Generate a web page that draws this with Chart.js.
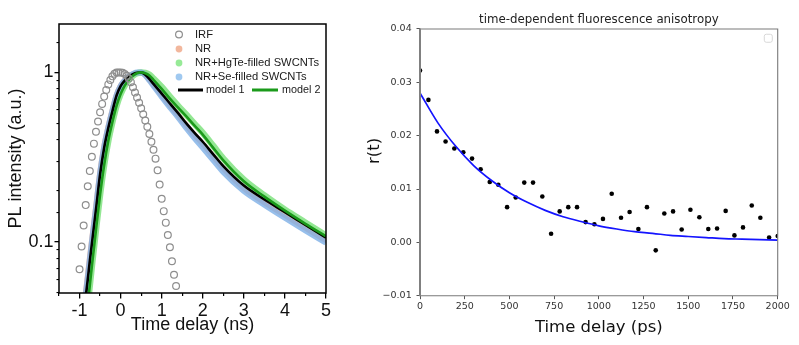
<!DOCTYPE html>
<html><head><meta charset="utf-8">
<script src="https://cdn.jsdelivr.net/npm/chart.js@4.4.1/dist/chart.umd.min.js"></script>
<style>
html,body{margin:0;padding:0;background:#fff;}
#wrap{position:relative;width:799px;height:345px;overflow:hidden;background:#fff;}
#c1{position:absolute;left:0;top:0;}
#c2{position:absolute;left:340px;top:0;}
</style></head><body>
<div id="wrap">
<canvas id="c1" width="340" height="345"></canvas>
<canvas id="c2" width="459" height="345"></canvas>
</div>
<script>
// ---------- Left panel data (time in ns, normalized PL) ----------
const irfTime = [-1.0,-0.95,-0.9,-0.85,-0.8,-0.75,-0.7,-0.65,-0.6,-0.55,-0.5,-0.45,-0.4,-0.35,-0.3,-0.25,-0.2,-0.15,-0.1,-0.05,
  0,0.05,0.1,0.15,0.2,0.25,0.3,0.35,0.4,0.45,0.5,0.55,0.6,0.65,0.7,0.75,0.8,0.85,0.9,0.95,1.0,1.05,1.1,1.15,1.2,1.25,1.3,1.35,1.4];
const irfValues = [0.069,0.094,0.125,0.165,0.213,0.262,0.318,0.380,0.447,0.513,0.582,0.652,0.720,0.788,0.850,0.902,0.948,0.982,0.998,1.0,
  1.0,0.994,0.978,0.955,0.922,0.876,0.818,0.760,0.712,0.662,0.615,0.566,0.520,0.478,0.433,0.390,0.350,0.310,0.265,0.218,0.180,0.152,0.130,0.110,0.093,0.077,0.064,0.055,0.047];

const curveTime = [-0.87,-0.8,-0.75,-0.7,-0.6,-0.5,-0.4,-0.3,-0.2,-0.1,0,0.1,0.2,0.3,0.4,0.5,0.6,0.7,0.8,1.0,1.2,1.4,1.6,1.8,2.0,2.25,2.5,3.0,3.5,4.0,4.5,5.0];
const nrValues     = [0.046,0.064,0.082,0.103,0.163,0.26,0.37,0.48,0.60,0.735,0.835,0.90,0.95,0.98,0.997,1.0,0.965,0.905,0.845,0.735,0.64,0.56,0.487,0.427,0.378,0.32,0.272,0.208,0.171,0.144,0.121,0.102];
const seValues     = [0.044,0.061,0.078,0.099,0.157,0.252,0.362,0.472,0.592,0.73,0.83,0.895,0.947,0.98,1.0,1.0,0.965,0.9,0.835,0.72,0.625,0.545,0.47,0.41,0.36,0.305,0.259,0.2,0.166,0.139,0.117,0.099];
const model1Values = [0.043,0.06,0.077,0.097,0.155,0.25,0.36,0.47,0.59,0.73,0.83,0.895,0.945,0.978,0.996,1.0,0.97,0.915,0.855,0.75,0.656,0.575,0.50,0.44,0.39,0.33,0.28,0.215,0.178,0.15,0.126,0.106];

const curveTime2 = [-0.8,-0.77,-0.7,-0.6,-0.5,-0.4,-0.3,-0.2,-0.1,0,0.1,0.2,0.3,0.4,0.5,0.6,0.7,0.8,1.0,1.2,1.4,1.6,1.8,2.0,2.25,2.5,3.0,3.5,4.0,4.5,5.0];
const hgteValues   = [0.043,0.05,0.072,0.118,0.19,0.285,0.395,0.51,0.635,0.745,0.835,0.905,0.955,0.988,1.0,0.995,0.97,0.92,0.82,0.72,0.635,0.563,0.497,0.44,0.37,0.31,0.233,0.188,0.155,0.13,0.109];
const model2Values = [0.043,0.05,0.072,0.118,0.19,0.285,0.395,0.51,0.635,0.745,0.835,0.905,0.955,0.988,1.0,0.99,0.96,0.905,0.80,0.70,0.62,0.55,0.485,0.43,0.36,0.303,0.228,0.185,0.153,0.128,0.108];

const xTicksLeft = [-1,0,1,2,3,4,5];
const xMinorTicksLeft = [-1.5,-0.5,0.5,1.5,2.5,3.5,4.5];
const yTicksLeft = [0.1,1];

// ---------- Right panel data (time in ps, anisotropy) ----------
const delayPs = [0,47,95,143,192,242,291,339,390,438,487,535,583,632,684,733,781,829,878,926,975,1023,1072,1124,1172,1221,1269,1318,1366,1415,1463,1512,1562,1612,1661,1709,1758,1806,1855,1903,1952,2000];
const anisotropy = [0.0322,0.0267,0.0208,0.0189,0.0176,0.0169,0.0157,0.0137,0.0113,0.0108,0.0066,0.0084,0.0112,0.0112,0.0086,0.0016,0.0058,0.0066,0.0066,0.0038,0.0034,0.0044,0.0091,0.0046,0.0057,0.0025,0.0066,-0.0015,0.0054,0.0058,0.0024,0.0061,0.0047,0.0025,0.0026,0.0059,0.0013,0.0028,0.0069,0.0046,0.0009,0.0012];
const fitTimePs = [0,100,200,300,400,500,600,700,800,900,1000,1100,1200,1300,1400,1500,1600,1700,1800,1900,2000];
const fitValues = [0.0280,0.0224,0.0180,0.0144,0.0116,0.0093,0.0075,0.0060,0.0048,0.0039,0.0031,0.0025,0.0020,0.0017,0.0013,0.0011,0.0009,0.0007,0.0006,0.0005,0.0004];
const xTicksRight = [0,250,500,750,1000,1250,1500,1750,2000];
const yTicksRight = [-0.01,0,0.01,0.02,0.03,0.04];

const pts = (xs, ys) => xs.map((x, i) => ({x, y: ys[i]}));
const SANS = "'Liberation Sans', Arial, sans-serif";
const DV = "'DejaVu Sans', sans-serif";

// ---------- plugins ----------
const frameLeft = {
  id: 'frameLeft',
  afterDraw(chart) {
    const {ctx, chartArea: a} = chart;
    ctx.save();
    ctx.strokeStyle = '#000'; ctx.lineWidth = 1.5;
    ctx.strokeRect(a.left, a.top, a.right - a.left, a.bottom - a.top);
    ctx.restore();
  }
};
const legendLeft = {
  id: 'legendLeft',
  afterDraw(chart) {
    const {ctx} = chart;
    const ds = chart.data.datasets;
    const byLabel = l => ds.find(d => d.label === l);
    ctx.save();
    ctx.textBaseline = 'middle'; ctx.textAlign = 'left';
    ctx.fillStyle = '#1a1a1a';
    ctx.font = "11.2px " + SANS;
    const rows = [
      {l: 'IRF', y: 34.5, open: true},
      {l: 'NR', y: 49, fill: 'rgba(240,170,140,0.85)'},
      {l: 'NR+HgTe-filled SWCNTs', y: 63, fill: 'rgba(140,232,140,0.9)'},
      {l: 'NR+Se-filled SWCNTs', y: 77, fill: 'rgba(150,195,238,0.9)'}
    ];
    rows.forEach(r => {
      const d = byLabel(r.l);
      ctx.beginPath();
      ctx.arc(179, r.y, 3.4, 0, Math.PI * 2);
      if (r.open) { ctx.lineWidth = 1.2; ctx.strokeStyle = d.pointBorderColor; ctx.stroke(); }
      else { ctx.fillStyle = r.fill; ctx.fill(); }
      ctx.fillStyle = '#1a1a1a';
      ctx.fillText(d.label, 195, r.y);
    });
    const m1 = byLabel('model 1'), m2 = byLabel('model 2');
    ctx.lineWidth = 3;
    ctx.strokeStyle = m1.borderColor;
    ctx.beginPath(); ctx.moveTo(178, 90); ctx.lineTo(203, 90); ctx.stroke();
    ctx.strokeStyle = m2.borderColor;
    ctx.beginPath(); ctx.moveTo(252, 90); ctx.lineTo(278, 90); ctx.stroke();
    ctx.font = "10.8px " + SANS;
    ctx.fillText(m1.label, 206, 90);
    ctx.fillText(m2.label, 282, 90);
    ctx.restore();
  }
};
const frameRight = {
  id: 'frameRight',
  afterDraw(chart) {
    const {ctx, chartArea: a} = chart;
    ctx.save();
    ctx.strokeStyle = '#7a7a7a'; ctx.lineWidth = 1.1;
    ctx.beginPath();
    ctx.moveTo(a.left, a.top); ctx.lineTo(a.right, a.top); ctx.lineTo(a.right, a.bottom); ctx.lineTo(a.left, a.bottom);
    ctx.stroke();
    ctx.lineWidth = 2; ctx.strokeStyle = '#808080';
    ctx.beginPath(); ctx.moveTo(a.left, a.top - 0.5); ctx.lineTo(a.left, a.bottom + 0.5); ctx.stroke();
    // empty legend box (matplotlib legend with no entries)
    ctx.strokeStyle = '#d8d8d8'; ctx.lineWidth = 1;
    ctx.beginPath();
    if (ctx.roundRect) ctx.roundRect(a.right - 13.4, a.top + 5.3, 8, 8, 2); else ctx.rect(a.right - 13.4, a.top + 5.3, 8, 8);
    ctx.stroke();
    // y axis label
    ctx.translate(35, 151);
    ctx.rotate(-Math.PI / 2);
    ctx.fillStyle = '#111';
    ctx.font = "16.5px " + DV;
    ctx.textAlign = 'center'; ctx.textBaseline = 'middle';
    ctx.fillText('r(t)', 0, 0);
    ctx.restore();
  }
};

// ---------- Left chart ----------
new Chart(document.getElementById('c1'), {
  type: 'scatter',
  data: {
    datasets: [
      {label: 'IRF', data: pts(irfTime, irfValues), showLine: false, pointRadius: 3.4, pointBorderWidth: 1.2,
       pointBorderColor: '#8e8e8e', pointBackgroundColor: 'rgba(255,255,255,0)', xAxisID: 'x', yAxisID: 'y', order: 0},
      {label: 'model 2', data: pts(curveTime2, model2Values), showLine: true, pointRadius: 0, borderColor: '#1b9a1b', borderWidth: 2.6,
       cubicInterpolationMode: 'monotone', xAxisID: 'x', yAxisID: 'y', order: 1},
      {label: 'model 1', data: pts(curveTime, model1Values), showLine: true, pointRadius: 0, borderColor: '#000000', borderWidth: 2.6,
       cubicInterpolationMode: 'monotone', xAxisID: 'x', yAxisID: 'y', order: 2},
      {label: 'NR+Se-filled SWCNTs', data: pts(curveTime, seValues), showLine: true, pointRadius: 0, borderColor: 'rgba(125,175,230,0.8)', borderWidth: 6,
       cubicInterpolationMode: 'monotone', xAxisID: 'x', yAxisID: 'y', order: 3},
      {label: 'NR+HgTe-filled SWCNTs', data: pts(curveTime2, hgteValues), showLine: true, pointRadius: 0, borderColor: 'rgba(120,225,120,0.8)', borderWidth: 6.5,
       cubicInterpolationMode: 'monotone', xAxisID: 'x', yAxisID: 'y', order: 4},
      {label: 'NR', data: pts(curveTime, nrValues), showLine: true, pointRadius: 0, borderColor: 'rgba(238,160,130,0.75)', borderWidth: 5.5,
       cubicInterpolationMode: 'monotone', xAxisID: 'x', yAxisID: 'y', order: 5}
    ]
  },
  options: {
    responsive: false, animation: false, devicePixelRatio: 1, events: [],
    layout: {padding: {left: 0, top: 24, right: 14, bottom: 0}},
    plugins: {legend: {display: false}, tooltip: {enabled: false}, title: {display: false}},
    scales: {
      x: {
        type: 'linear', position: 'bottom', min: -1.5, max: 5, weight: 1,
        afterBuildTicks: s => { s.ticks = xTicksLeft.map(v => ({value: v})); },
        afterFit: s => { s.height = 52; },
        grid: {display: true, drawOnChartArea: false, drawTicks: true, tickLength: 5.5, color: '#000', lineWidth: 1.3},
        border: {display: false},
        ticks: {autoSkip: false, maxRotation: 0, padding: 2.2, color: '#111', font: {family: SANS, size: 18}, callback: v => String(v)},
        title: {display: true, text: 'Time delay (ns)', color: '#111', font: {family: SANS, size: 18}, padding: {top: 0, bottom: 8.7}}
      },
      xMinor: {
        type: 'linear', position: 'bottom', min: -1.5, max: 5, weight: 0,
        afterBuildTicks: s => { s.ticks = xMinorTicksLeft.map(v => ({value: v})); },
        afterFit: s => { s.height = 0; },
        grid: {display: true, drawOnChartArea: false, drawTicks: true, tickLength: 3, color: '#000', lineWidth: 1.2},
        border: {display: false},
        ticks: {display: false}
      },
      y: {
        type: 'logarithmic', position: 'left', min: 0.05, max: 1.93, weight: 1,
        afterBuildTicks: s => { s.ticks = yTicksLeft.map(v => ({value: v})); },
        afterFit: s => { s.width = 59; },
        grid: {display: true, drawOnChartArea: false, drawTicks: true, tickLength: 4.5, color: '#000', lineWidth: 1.3},
        border: {display: false},
        ticks: {autoSkip: false, padding: 1, color: '#111', font: {family: SANS, size: 18}, callback: v => String(v)},
        title: {display: true, text: 'PL intensity (a.u.)', color: '#111', font: {family: SANS, size: 18}, padding: {top: 5.2, bottom: 0}}
      },
      yMinor: {
        type: 'logarithmic', position: 'left', min: 0.05, max: 1.93, weight: 0,
        afterBuildTicks: s => { s.ticks = s.ticks.filter(t => !yTicksLeft.some(m => Math.abs(m - t.value) < 1e-9) && t.value < 1.9); },
        afterFit: s => { s.width = 0; },
        grid: {display: true, drawOnChartArea: false, drawTicks: true, tickLength: 2.5, color: '#000', lineWidth: 1.1},
        border: {display: false},
        ticks: {display: false, autoSkip: false}
      }
    }
  },
  plugins: [frameLeft, legendLeft]
});

// ---------- Right chart ----------
const fmtR = v => (v < 0 ? '\u2212' + Math.abs(v).toFixed(2) : v.toFixed(2));
new Chart(document.getElementById('c2'), {
  type: 'scatter',
  data: {
    datasets: [
      {label: 'fit', data: pts(fitTimePs, fitValues), showLine: true, pointRadius: 0, borderColor: '#1414ff', borderWidth: 1.7,
       cubicInterpolationMode: 'monotone', order: 0},
      {label: 'r(t)', data: pts(delayPs, anisotropy), showLine: false, pointRadius: 2.3, pointBorderWidth: 0,
       pointBackgroundColor: '#000', order: 1}
    ]
  },
  options: {
    responsive: false, animation: false, devicePixelRatio: 1, events: [],
    layout: {padding: {left: 0, top: 0, right: 21.3, bottom: 0}},
    plugins: {
      legend: {display: false}, tooltip: {enabled: false},
      title: {display: true, text: 'time-dependent fluorescence anisotropy', color: '#222', fullSize: false,
              font: {family: DV, size: 11.8, weight: 'normal'}, padding: {top: 12.5, bottom: 2.3}}
    },
    scales: {
      x: {
        type: 'linear', min: 0, max: 2000,
        afterBuildTicks: s => { s.ticks = xTicksRight.map(v => ({value: v})); },
        afterFit: s => { s.height = 49.3; },
        grid: {display: true, drawOnChartArea: false, drawTicks: true, tickLength: 3.5, color: '#555', lineWidth: 1},
        border: {display: false},
        ticks: {autoSkip: false, maxRotation: 0, padding: 1.9, color: '#333', font: {family: DV, size: 9.5}, callback: v => String(v)},
        title: {display: true, text: 'Time delay (ps)', color: '#111', font: {family: DV, size: 16.5}, padding: {top: 0, bottom: 7.6}}
      },
      y: {
        type: 'linear', min: -0.01, max: 0.04,
        afterBuildTicks: s => { s.ticks = yTicksRight.map(v => ({value: v})); },
        afterFit: s => { s.width = 80; },
        grid: {display: true, drawOnChartArea: false, drawTicks: true, tickLength: 3.5, color: '#555', lineWidth: 1},
        border: {display: false},
        ticks: {autoSkip: false, padding: 4.8, color: '#333', font: {family: DV, size: 9.5}, callback: v => fmtR(v)}
      }
    }
  },
  plugins: [frameRight]
});
</script>
</body></html>
